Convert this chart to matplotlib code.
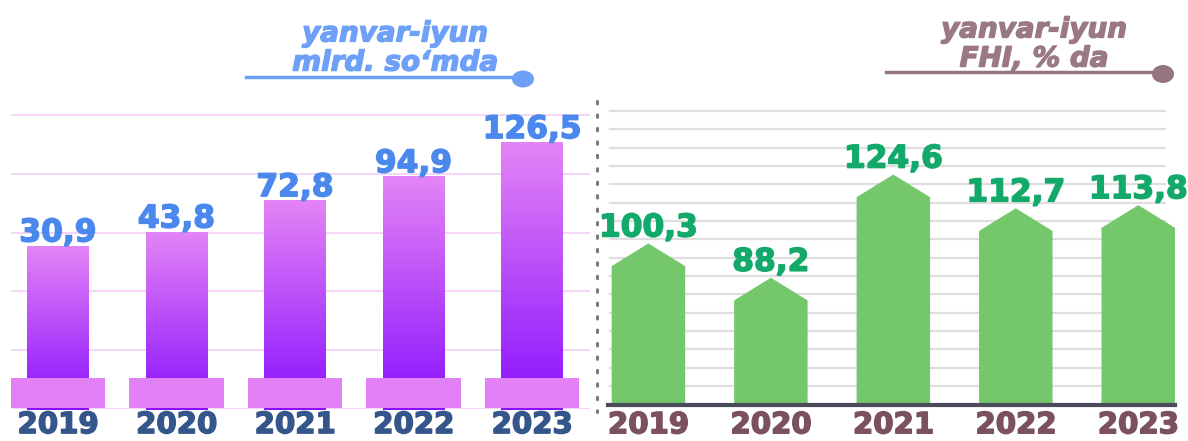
import numpy as np
import matplotlib
matplotlib.use("Agg")
import matplotlib.pyplot as plt
from matplotlib.patches import Rectangle, Ellipse, Polygon
from matplotlib.colors import LinearSegmentedColormap
import matplotlib.transforms as mtransforms
import matplotlib.patheffects as pe

# ---------------- data ----------------
years = ["2019", "2020", "2021", "2022", "2023"]
volume = [30.9, 43.8, 72.8, 94.9, 126.5]          # mlrd. so'm
volume_labels = ["30,9", "43,8", "72,8", "94,9", "126,5"]
growth = [100.3, 88.2, 124.6, 112.7, 113.8]        # % to previous year
growth_labels = ["100,3", "88,2", "124,6", "112,7", "113,8"]
title_left = "yanvar-iyun\nmlrd. so\u2018mda"
title_right = "yanvar-iyun\nFHI, % da"

W, H = 1188, 441
fig = plt.figure(figsize=(W / 100, H / 100), dpi=100)
fig.patch.set_facecolor("white")

FONT = "DejaVu Sans"


def heavy(color, lw=1.1):
    return [pe.withStroke(linewidth=lw, foreground=color)]


def px_axes(x0, x1, ytop, ybot, **kw):
    return fig.add_axes([x0 / W, (H - ybot) / H, (x1 - x0) / W, (ybot - ytop) / H], **kw)


# ---------------- left panel ----------------
axL = px_axes(11, 590, 100, 409)
yL0, yL1 = -120.3, 165.6
axL.set_xlim(-0.3966, 4.489)
axL.set_ylim(yL0, yL1)
for s in axL.spines.values():
    s.set_visible(False)
axL.set_yticks([])
for g in np.linspace(yL0, 151.7, 6):
    axL.axhline(g, color="#F6D2F8", lw=1.3, zorder=0)

cmap = LinearSegmentedColormap.from_list("pv", ["#8A10FE", "#E385F5"])
grad = np.linspace(0, 1, 256).reshape(-1, 1)
xs = np.arange(len(years))
bw = 0.523
for x, v in zip(xs, volume):
    rect = Rectangle((x - bw / 2, yL0 - 1), bw, v - yL0 + 1, facecolor="none", edgecolor="none")
    axL.add_patch(rect)
    im = axL.imshow(grad, cmap=cmap, aspect="auto", origin="lower",
                    extent=[x - bw / 2, x + bw / 2, yL0 - 1, v], zorder=2)
    im.set_clip_path(rect)
# pedestals
blend = mtransforms.blended_transform_factory(axL.transData, axL.transAxes)
pw = 0.80
for x in xs:
    axL.add_patch(Rectangle((x - pw / 2, 0.003), pw, 0.097, transform=blend,
                            facecolor="#E181F5", edgecolor="none", zorder=3, clip_on=False))
axL.set_xlim(-0.3966, 4.489)
axL.set_ylim(yL0, yL1)
for x, v, t in zip(xs, volume, volume_labels):
    axL.annotate(t, (x, v), xytext=(0, 3), textcoords="offset points", ha="center",
                 va="baseline", fontsize=22.5, fontweight="bold", color="#4B88EE",
                 family=FONT, zorder=5, path_effects=heavy("#4B88EE"))
axL.set_xticks(xs)
axL.set_xticklabels(years, fontsize=21, fontweight="bold", color="#34568B", family=FONT)
for lab in axL.get_xticklabels():
    lab.set_path_effects(heavy("#34568B"))
axL.tick_params(axis="x", length=0, pad=1.5)

# ---------------- right panel ----------------
axR = px_axes(608, 1175, 100, 405)
yR0, yR1 = 43.3, 150.9
axR.set_xlim(-0.33, 4.30)
axR.set_ylim(yR0, yR1)
for k in ["top", "left", "right"]:
    axR.spines[k].set_visible(False)
axR.spines["bottom"].set_color("#4B4B5C")
axR.spines["bottom"].set_linewidth(3)
axR.spines["bottom"].set_zorder(4)
axR.set_yticks([])
for k in range(16):
    axR.axhline(147.0 - 6.47 * k, xmin=0.004, xmax=0.982, color="#DEDEDE", lw=1.6, zorder=0)
rw = 0.60
roof = 8.0
for x, v in zip(xs, growth):
    poly = Polygon([(x - rw / 2, yR0), (x - rw / 2, v - roof), (x, v),
                    (x + rw / 2, v - roof), (x + rw / 2, yR0)],
                   closed=True, facecolor="#74C86B", edgecolor="none", zorder=2)
    axR.add_patch(poly)
for x, v, t in zip(xs, growth, growth_labels):
    axR.annotate(t, (x, v), xytext=(0, 5), textcoords="offset points", ha="center",
                 va="baseline", fontsize=22.5, fontweight="bold", color="#12A96B",
                 family=FONT, zorder=5, path_effects=heavy("#12A96B"))
axR.set_xticks(xs)
axR.set_xticklabels(years, fontsize=21, fontweight="bold", color="#7B5162", family=FONT)
for lab in axR.get_xticklabels():
    lab.set_path_effects(heavy("#7B5162"))
axR.tick_params(axis="x", length=0, pad=4.5)

# ---------------- overlay decorations (figure pixels) ----------------
axO = fig.add_axes([0, 0, 1, 1], zorder=10)
axO.set_xlim(0, W)
axO.set_ylim(H, 0)
axO.axis("off")
axO.patch.set_alpha(0)

# dotted separator
axO.plot([597, 597], [101, 412], color="#7A7A7A", lw=2.2, dashes=(0.8, 3.6),
         dash_capstyle="round", solid_capstyle="round")

# left title
axO.text(395, 48, title_left, ha="center", va="center", fontsize=20,
         fontweight="bold", fontstyle="italic", color="#6EA0F8", family=FONT,
         linespacing=1.05, path_effects=heavy("#6EA0F8", 1.0))
axO.plot([246, 515], [77, 77], color="#6EA0F8", lw=2.5)
axO.add_patch(Ellipse((523, 79), 22, 17, facecolor="#6EA0F8", edgecolor="none"))

# right title
axO.text(1034, 44, title_right, ha="center", va="center", fontsize=20,
         fontweight="bold", fontstyle="italic", color="#9B7886", family=FONT,
         linespacing=1.05, path_effects=heavy("#9B7886", 1.0))
axO.plot([886, 1155], [72, 72], color="#957582", lw=2.5)
axO.add_patch(Ellipse((1163, 74), 22, 18, facecolor="#957582", edgecolor="none"))

fig.savefig("out.png", dpi=100, facecolor="white")
